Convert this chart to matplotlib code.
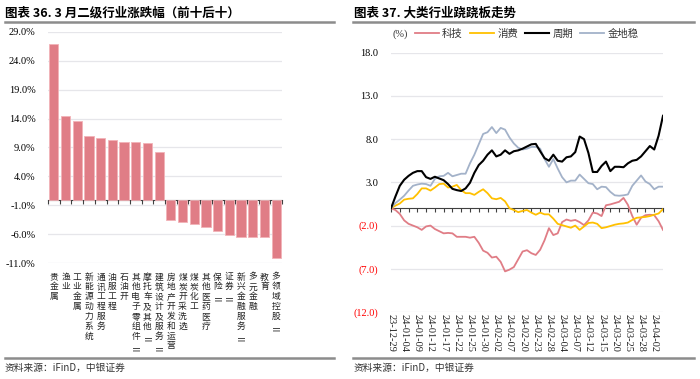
import matplotlib
matplotlib.use("Agg")
import matplotlib.pyplot as plt
import matplotlib.transforms as mtransforms
from matplotlib.lines import Line2D
import numpy as np

plt.rcParams['font.family'] = ['Noto Sans CJK SC', 'DejaVu Sans']
plt.rcParams['axes.unicode_minus'] = False

# ---- 图表36 数据 ----
industries = ["贵金属", "渔业", "工业金属", "新能源动力系统", "通讯工程服务", "油服工程", "石油开",
              "其他电子零组件Ⅱ", "摩托车及其他Ⅱ", "建筑设计及服务Ⅱ", "房地产开发和运营", "煤炭开采洗选",
              "煤炭化工", "其他医药医疗", "保险Ⅱ", "证券Ⅱ", "新兴金融服务Ⅱ", "多元金融", "教育", "多领域控股Ⅱ"]
changes = [26.9, 14.4, 13.6, 11.0, 10.7, 10.3, 10.0, 10.0, 9.8, 8.2,
           -3.6, -3.9, -4.2, -4.7, -5.5, -6.1, -6.4, -6.4, -6.4, -10.0]
bar_yticks = [-11, -6, -1, 4, 9, 14, 19, 24, 29]

# ---- 图表37 数据 ----
dates = ["23-12-29",
         "24-01-02", "24-01-03", "24-01-04", "24-01-05", "24-01-08", "24-01-09", "24-01-10", "24-01-11",
         "24-01-12", "24-01-15", "24-01-16", "24-01-17", "24-01-18", "24-01-19", "24-01-22", "24-01-23",
         "24-01-24", "24-01-25", "24-01-26", "24-01-29", "24-01-30", "24-01-31",
         "24-02-01", "24-02-02", "24-02-05", "24-02-06", "24-02-07", "24-02-08", "24-02-19", "24-02-20",
         "24-02-21", "24-02-22", "24-02-23", "24-02-26", "24-02-27", "24-02-28", "24-02-29",
         "24-03-01", "24-03-04", "24-03-05", "24-03-06", "24-03-07", "24-03-08", "24-03-11", "24-03-12",
         "24-03-13", "24-03-14", "24-03-15", "24-03-18", "24-03-19", "24-03-20", "24-03-21", "24-03-22",
         "24-03-25", "24-03-26", "24-03-27", "24-03-28", "24-03-29",
         "24-04-01", "24-04-02", "24-04-03", "24-04-08"]
tech = [0, -0.2, -0.65, -1.4, -1.8, -2.0, -2.2, -2.5, -2.1, -2.0, -2.4, -2.65, -2.9, -2.85, -2.9,
        -3.3, -3.3, -3.3, -3.4, -3.3, -4.0, -4.9, -5.15, -5.7, -5.6, -6.2, -7.3, -7.1, -6.8, -5.9,
        -5.0, -4.85, -5.2, -5.4, -4.8, -3.7, -2.3, -3.1, -2.9, -1.6, -1.3, -1.45, -1.35, -1.6, -1.95,
        -1.4, -0.5, -0.6, -0.9, 0.35, 0.45, 0.6, 0.75, 1.2, 0.4, -0.9, -1.9, -1.1, -0.8, -0.75, -0.8,
        -1.5, -2.5]
consume = [0, 0.3, 0.55, 1.0, 1.1, 1.15, 1.65, 2.3, 2.3, 2.05, 2.4, 2.8, 2.85, 2.4, 2.5,
           2.7, 2.1, 1.75, 1.75, 1.55, 1.9, 2.2, 1.75, 1.15, 1.05, 1.2, 0.8, 0.0, -0.2, -0.45,
           -0.3, -0.2, -0.5, -0.75, -0.5, -0.7, -0.7, -1.2, -1.8, -1.95, -2.1, -2.25, -2.0, -2.5, -2.1,
           -1.7, -1.65, -1.8, -2.3, -2.2, -2.05, -1.9, -1.8, -1.75, -1.65, -1.35, -1.1, -1.05, -1.0,
           -0.9, -0.75, -0.6, -0.1]
cycle = [0, 1.35, 2.6, 3.3, 3.75, 4.1, 4.3, 4.3, 3.6, 3.4, 3.65, 3.45, 3.25, 2.8, 2.25,
         2.1, 2.0, 2.3, 2.95, 4.1, 5.0, 5.5, 6.2, 6.7, 6.0, 6.2, 6.7, 6.3, 6.6, 6.7,
         6.9, 7.15, 7.4, 7.45, 6.6, 5.8, 5.5, 6.2, 5.5, 5.4, 5.9, 6.0, 6.5, 8.3, 8.0,
         6.4, 4.2, 4.2, 4.9, 5.4, 4.3, 4.8, 4.8, 4.75, 5.2, 5.5, 5.6, 6.0, 6.6, 7.2, 6.8,
         8.4, 10.7]
stable = [0, 0.6, 1.0, 1.45, 2.05, 2.6, 2.75, 2.85, 2.8, 2.6, 3.4, 3.7, 3.75, 4.1, 3.7,
          3.85, 4.0, 4.0, 5.2, 6.2, 7.4, 8.6, 8.8, 9.4, 8.7, 9.3, 9.1, 8.2, 7.5, 7.0,
          6.8, 6.9, 7.1, 7.1, 6.9, 5.7, 4.8, 5.7, 4.6, 3.6, 3.0, 3.2, 3.2, 3.9, 3.4,
          2.9, 2.8, 2.2, 2.5, 2.45, 1.9, 1.5, 1.45, 1.5, 1.6, 2.6, 3.2, 3.8, 3.1, 2.8, 2.2,
          2.5, 2.5]
line_yticks = [-12, -7, -2, 3, 8, 13, 18]

num_font = 'Liberation Serif'
cjk = ['Noto Sans CJK SC', 'DejaVu Sans']
grid_c = '#E6E6EA'
axis_c = '#404040'

fig = plt.figure(figsize=(7, 3.79), dpi=100)
W, H = 700, 379


def fx(px):
    return px / W


def fy(py):
    return 1 - py / H


# ---------------- 左图：柱状图 ----------------
ax1 = fig.add_axes([fx(48), fy(263.3), fx(282 - 48), (263.3 - 31.7) / H])
x1 = np.arange(len(industries))
ax1.bar(x1, changes, width=0.78, color='#E07D86', edgecolor='#F2B3B8', linewidth=0.6, zorder=3)
ax1.set_xlim(-0.5, len(industries) - 0.5)
ax1.set_ylim(-11, 29)
ax1.set_yticks(bar_yticks)
ax1.set_yticklabels([f"{v:.1f}%" for v in bar_yticks], fontfamily=num_font, fontsize=7.5)
ax1.tick_params(axis='y', length=0, pad=9)
ax1.grid(axis='y', color=grid_c, linewidth=0.9, zorder=0)
for s in ['left', 'right', 'top']:
    ax1.spines[s].set_visible(False)
ax1.spines['bottom'].set_position(('data', 0))
ax1.spines['bottom'].set_color(axis_c)
ax1.spines['bottom'].set_linewidth(0.8)
ax1.set_xticks(np.arange(-0.5, len(industries), 1))
ax1.set_xticklabels([])
ax1.tick_params(axis='x', length=3, width=0.8, color=axis_c, direction='out')
trans1 = mtransforms.blended_transform_factory(ax1.transData, ax1.transAxes)
for i, name in enumerate(industries):
    body = name.rstrip("Ⅱ")
    t = ax1.text(i, -0.04, "\n".join(body), transform=trans1, ha='center', va='top',
                 fontsize=6.3, linespacing=1.12, color='#222222', family=cjk)
    if name.endswith("Ⅱ"):
        ax1.annotate("Ⅱ", xy=(0.5, 0), xycoords=t, xytext=(0, -1), textcoords='offset points',
                     ha='center', va='top', rotation=90, fontsize=6.3, color='#222222', family=cjk)

# ---------------- 右图：折线图 ----------------
ax2 = fig.add_axes([fx(391), fy(312), fx(663 - 391), (312 - 52.7) / H])
x2 = np.arange(len(dates))
l1, = ax2.plot(x2, tech, color='#E07D86', linewidth=1.3, label='科技', zorder=3)
l2, = ax2.plot(x2, consume, color='#FFC000', linewidth=1.3, label='消费', zorder=3)
l3, = ax2.plot(x2, cycle, color='#000000', linewidth=1.5, label='周期', zorder=4)
l4, = ax2.plot(x2, stable, color='#A3B2C9', linewidth=1.3, label='金地稳', zorder=3)
ax2.set_xlim(0, len(dates) - 1)
ax2.set_ylim(-12, 18)
ax2.set_yticks(line_yticks)
ax2.set_yticklabels([f"({abs(v):.1f})" if v < 0 else f"{v:.1f}" for v in line_yticks],
                    fontfamily=num_font, fontsize=7.5)
for lab, v in zip(ax2.get_yticklabels(), line_yticks):
    if v < 0:
        lab.set_color('#FF0000')
ax2.tick_params(axis='y', length=0, pad=9)
ax2.grid(axis='y', color=grid_c, linewidth=0.9, zorder=0)
for s in ['left', 'right', 'top']:
    ax2.spines[s].set_visible(False)
ax2.spines['bottom'].set_position(('data', 0))
ax2.spines['bottom'].set_color(axis_c)
ax2.spines['bottom'].set_linewidth(0.8)
ax2.set_xticks(np.arange(0, len(dates), 2))
ax2.set_xticklabels([])
ax2.tick_params(axis='x', length=3, width=0.8, color=axis_c, direction='out')
trans2 = mtransforms.blended_transform_factory(ax2.transData, ax2.transAxes)
for i in range(0, len(dates), 3):
    ax2.text(i, -0.006, dates[i], transform=trans2, ha='center', va='top', rotation=-90,
             fontsize=7.5, family=num_font, color='#222222')

fig.text(fx(392), fy(34), "(%)", fontsize=7.5, family=num_font, va='center', ha='left', color='#333333')
ax2.legend(handles=[l1, l2, l3, l4], loc='center left', bbox_to_anchor=(fx(415), fy(34)),
           bbox_transform=fig.transFigure, ncol=4, frameon=False, fontsize=7.5,
           handlelength=2.3, handletextpad=0.3, columnspacing=0.7, borderpad=0, borderaxespad=0,
           labelcolor='#333333')

# ---------------- 标题、分隔线、来源 ----------------
fig.text(fx(5), fy(13), "图表 36. 3 月二级行业涨跌幅（前十后十）", fontsize=9, fontweight='bold',
         va='center', ha='left', family=cjk)
fig.text(fx(354), fy(13), "图表 37. 大类行业跷跷板走势", fontsize=9, fontweight='bold',
         va='center', ha='left', family=cjk)
for x0, x1_ in [(5, 334), (353, 694)]:
    fig.add_artist(Line2D([fx(x0), fx(x1_)], [fy(22), fy(22)], color='#8C8C8C', linewidth=1.8))
    fig.add_artist(Line2D([fx(x0), fx(x1_)], [fy(358), fy(358)], color='#8C8C8C', linewidth=1.8))
fig.text(fx(5), fy(368), "资料来源：iFinD，中银证券", fontsize=7, va='center', ha='left',
         family=cjk, color='#333333')
fig.text(fx(354), fy(368), "资料来源：iFinD，中银证券", fontsize=7, va='center', ha='left',
         family=cjk, color='#333333')

fig.savefig("out.png", dpi=100)
